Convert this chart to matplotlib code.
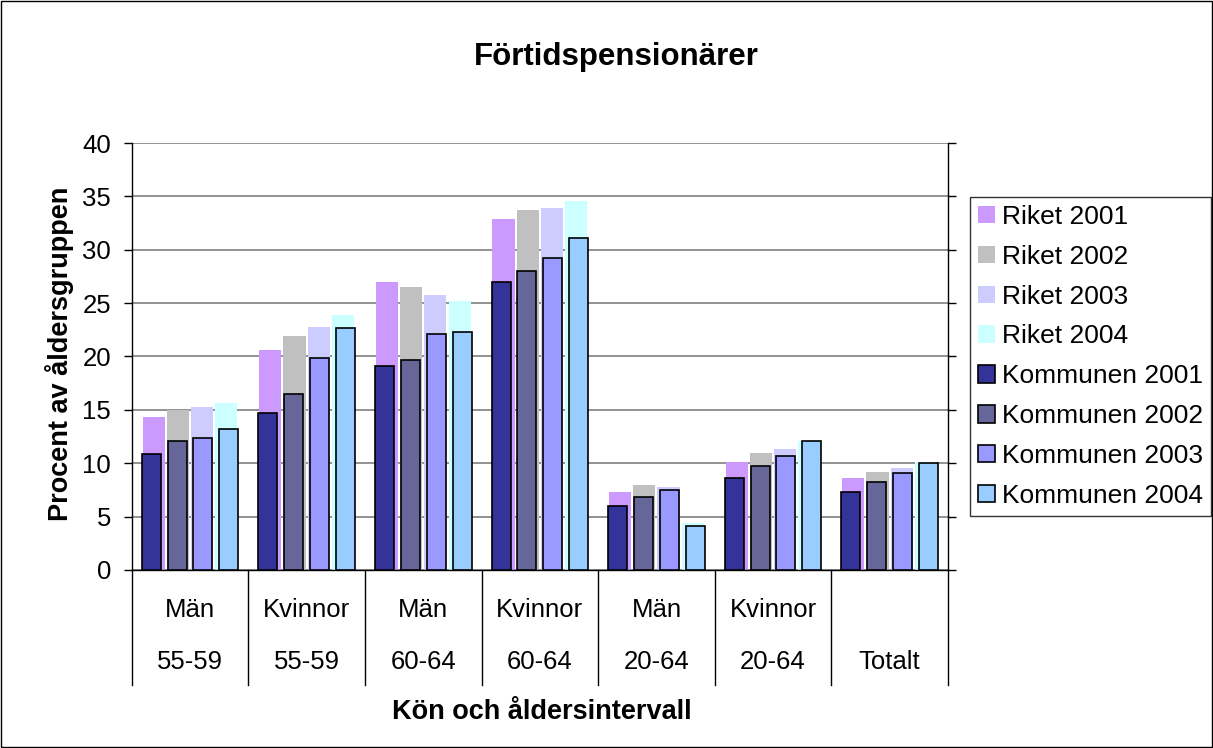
import numpy as np
import matplotlib.pyplot as plt
import matplotlib.transforms as mtransforms
from matplotlib.patches import Patch, Rectangle

plt.rcParams["font.family"] = ["Liberation Sans", "DejaVu Sans"]

# category labels (two rows)
kon = ["Män", "Kvinnor", "Män", "Kvinnor", "Män", "Kvinnor", ""]
alder = ["55-59", "55-59", "60-64", "60-64", "20-64", "20-64", "Totalt"]

years = ["2001", "2002", "2003", "2004"]

riket = {
    "2001": [14.3, 20.6, 27.0, 32.9, 7.3, 10.1, 8.6],
    "2002": [15.0, 21.9, 26.5, 33.7, 8.0, 11.0, 9.2],
    "2003": [15.3, 22.8, 25.8, 33.9, 7.8, 11.3, 9.6],
    "2004": [15.6, 23.9, 25.2, 34.6, 4.4, 12.1, 10.1],
}
kommunen = {
    "2001": [10.9, 14.7, 19.1, 27.0, 6.0, 8.6, 7.3],
    "2002": [12.1, 16.5, 19.7, 28.0, 6.8, 9.7, 8.2],
    "2003": [12.4, 19.9, 22.1, 29.2, 7.5, 10.7, 9.1],
    "2004": [13.2, 22.7, 22.3, 31.1, 4.1, 12.1, 10.0],
}

riket_colors = ["#CC99FF", "#C0C0C0", "#CCCCFF", "#CCFFFF"]
kommun_colors = ["#333399", "#666699", "#9999FF", "#99CCFF"]

fig = plt.figure(figsize=(12.13, 7.48), dpi=100)
ax = fig.add_axes([0.1086, 0.238, 0.6729, 0.5708])

x = np.arange(len(alder))

for i, y in enumerate(years):
    off = (i - 1.5) * 0.208
    ax.bar(x + off, riket[y], width=0.19, color=riket_colors[i],
           linewidth=0, zorder=2)
for i, y in enumerate(years):
    off = (i - 1.5) * 0.222
    ax.bar(x + off, kommunen[y], width=0.163, color=kommun_colors[i],
           edgecolor="black", linewidth=1.2, zorder=3)

ax.set_xlim(-0.5, len(alder) - 0.5)
ax.set_ylim(0, 40)
ax.set_yticks(np.arange(0, 41, 5))
ax.yaxis.grid(True, color="#808080", linewidth=1.2, zorder=1)
ax.set_axisbelow(True)
ax.tick_params(axis="y", labelsize=18.5, length=6, width=1, direction="out",
               right=True, pad=9)
ax.tick_params(axis="x", length=0, labelbottom=False)

ax.spines["top"].set_visible(False)
for side in ["left", "right", "bottom"]:
    ax.spines[side].set_color("black")
    ax.spines[side].set_linewidth(1)

# multi-level category axis
trans = mtransforms.blended_transform_factory(ax.transData, ax.transAxes)
for b in np.arange(-0.5, len(alder), 1.0):
    ax.plot([b, b], [0, -0.27], color="black", linewidth=1,
            transform=trans, clip_on=False)
for xi, (k, a) in enumerate(zip(kon, alder)):
    ax.text(xi, -0.094, k, transform=trans, ha="center", va="center",
            fontsize=18.5)
    ax.text(xi, -0.215, a, transform=trans, ha="center", va="center",
            fontsize=18.5)

fig.text(0.5084, 0.924, "Förtidspensionärer", ha="center", va="center",
         fontsize=22.5, fontweight="bold")
fig.text(0.4464, 0.048, "Kön och åldersintervall", ha="center", va="center",
         fontsize=19.5, fontweight="bold")
fig.text(0.049, 0.527, "Procent av åldersgruppen", ha="center", va="center",
         rotation=90, fontsize=19.5, fontweight="bold")

handles = [Patch(facecolor=c, edgecolor="none") for c in riket_colors]
handles += [Patch(facecolor=c, edgecolor="black", linewidth=1.2)
            for c in kommun_colors]
labels = ["Riket " + y for y in years] + ["Kommunen " + y for y in years]
leg = fig.legend(handles, labels, loc="upper left",
                 bbox_to_anchor=(970 / 1213, 1 - 197 / 748),
                 fontsize=19, frameon=True, fancybox=False,
                 edgecolor="black", handlelength=0.65, handleheight=0.65,
                 handletextpad=0.25, labelspacing=0.6, borderpad=0.3,
                 borderaxespad=0)
leg.get_frame().set_linewidth(1)

fig.patches.append(Rectangle((0.001, 0.001), 0.998, 0.998,
                             transform=fig.transFigure, fill=False,
                             edgecolor="black", linewidth=1))

fig.savefig("out.png", dpi=100)
